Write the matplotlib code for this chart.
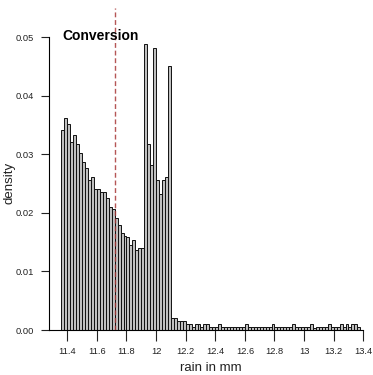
import matplotlib
matplotlib.use("Agg")
import matplotlib.pyplot as plt
import numpy as np

plt.rcParams['font.family'] = ['Liberation Sans', 'DejaVu Sans']

# ---- data ----
bin_start = 11.36
bin_width = 0.02
density = [
    0.0341, 0.0361, 0.0351, 0.0321, 0.0332, 0.0317, 0.0302, 0.0286, 0.0276, 0.0256,
    0.0261, 0.0241, 0.0241, 0.0236, 0.0236, 0.0226, 0.0210, 0.0206, 0.0191, 0.0180,
    0.0166, 0.0161, 0.0158, 0.0145, 0.0153, 0.0137, 0.0140, 0.0140, 0.0488, 0.0317,
    0.0282, 0.0482, 0.0256, 0.0232, 0.0256, 0.0261, 0.0451, 0.0020, 0.0020, 0.0015,
    0.0015, 0.0015, 0.0010, 0.0010, 0.0005, 0.0010, 0.0010, 0.0005, 0.0010, 0.0010,
    0.0005, 0.0005, 0.0005, 0.0010, 0.0005, 0.0005, 0.0005, 0.0005, 0.0005, 0.0005,
    0.0005, 0.0005, 0.0010, 0.0005, 0.0005, 0.0005, 0.0005, 0.0005, 0.0005, 0.0005,
    0.0005, 0.0010, 0.0005, 0.0005, 0.0005, 0.0005, 0.0005, 0.0005, 0.0010, 0.0005,
    0.0005, 0.0005, 0.0005, 0.0005, 0.0010, 0.0003, 0.0005, 0.0005, 0.0005, 0.0005,
    0.0010, 0.0005, 0.0005, 0.0005, 0.0010, 0.0005, 0.0010, 0.0005, 0.0010, 0.0010,
    0.0005,
]
conversion_x = 11.722
x_ticks = [11.4, 11.6, 11.8, 12.0, 12.2, 12.4, 12.6, 12.8, 13.0, 13.2, 13.4]
x_tick_labels = ["11.4", "11.6", "11.8", "12", "12.2", "12.4", "12.6", "12.8", "13", "13.2", "13.4"]
y_ticks = [0.00, 0.01, 0.02, 0.03, 0.04, 0.05]
y_tick_labels = ["0.00", "0.01", "0.02", "0.03", "0.04", "0.05"]

# ---- figure ----
W, H = 373, 375
fig = plt.figure(figsize=(W / 100, H / 100), dpi=100)
ax_left, ax_right, ax_top, ax_bottom = 49, 370, 8, 330  # pixels
ax = fig.add_axes([ax_left / W, (H - ax_bottom) / H, (ax_right - ax_left) / W, (ax_bottom - ax_top) / H])

edges = bin_start + bin_width * np.arange(len(density))
ax.bar(edges, density, width=bin_width, align='edge', color='#c0c0c0',
       edgecolor='#111111', linewidth=0.7)

ax.axvline(conversion_x, color='#a83838', ls=(0, (3.5, 2.0)), lw=1.0, alpha=0.85)

ax.set_xlim(11.2764, 13.4453)
ax.set_ylim(0, 0.05495)

for s in ['top', 'right']:
    ax.spines[s].set_visible(False)
ax.spines['left'].set_bounds(0, 0.05)
ax.spines['bottom'].set_bounds(11.2764, 13.4)
ax.spines['left'].set_linewidth(0.8)
ax.spines['bottom'].set_linewidth(0.8)

ax.set_xticks(x_ticks)
ax.set_xticklabels(x_tick_labels)
ax.set_yticks(y_ticks)
ax.set_yticklabels(y_tick_labels)
ax.tick_params(axis='both', labelsize=6.7, colors='#222222', length=6, width=0.8, pad=5)
ax.tick_params(axis='x', length=8, pad=4)

fig.text(211 / W, 1 - 368 / H, "rain in mm", ha='center', va='center', fontsize=9.5, color='#222222')
fig.text(10 / W, 1 - 183 / H, "density", ha='center', va='center', rotation=90, fontsize=9.5, color='#222222')
fig.text(62 / W, 1 - 36 / H, "Conversion", ha='left', va='center', fontsize=10, fontweight='bold', color='black')

fig.savefig("out.png", dpi=100)
